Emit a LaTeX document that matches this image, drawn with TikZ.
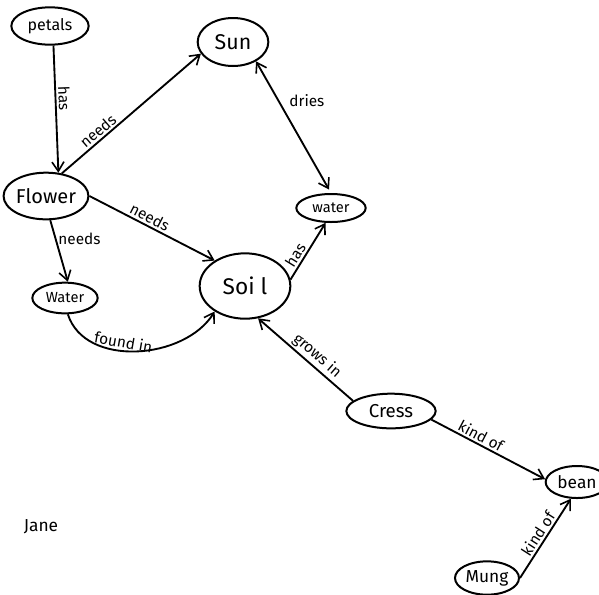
\documentclass[tikz,border=0pt]{standalone}
\usepackage{fontspec}
\setmainfont{Fira Sans}
\usetikzlibrary{arrows.meta,shapes.geometric}
\begin{document}
\begin{tikzpicture}[x=0.75pt,y=-0.75pt,
  blob/.style={draw,ellipse,line width=1.5pt,inner sep=0pt,font=\fontsize{13}{15}\selectfont},
  link/.style={line width=1.4pt,-{Straight Barb[length=7pt,width=9pt,line width=1.2pt]}},
  twolink/.style={line width=1.4pt,{Straight Barb[length=7pt,width=9pt,line width=1.2pt]}-{Straight Barb[length=7pt,width=9pt,line width=1.2pt]}},
  lbl/.style={font=\fontsize{11.5}{13}\selectfont,inner sep=1.5pt}]
\useasboundingbox (0,0) rectangle (599,594);

% concepts
\node[blob,minimum width=58pt,minimum height=28pt,font=\fontsize{12}{14}\selectfont] (petals) at (50,26) {petals};
\node[blob,minimum width=53pt,minimum height=36pt,font=\fontsize{16}{18}\selectfont] (sun) at (233,42) {Sun};
\node[blob,minimum width=62pt,minimum height=35pt,font=\fontsize{15}{17}\selectfont] (flower) at (46,196) {Flower};
\node[blob,minimum width=52pt,minimum height=21pt,font=\fontsize{11}{13}\selectfont] (wr) at (331,208) {water};
\node[blob,minimum width=49pt,minimum height=23pt,font=\fontsize{11}{13}\selectfont] (wl) at (65,298) {Water};
\node[blob,minimum width=68pt,minimum height=49pt,font=\fontsize{17}{19}\selectfont] (soil) at (245,286) {Soi l};
\node[blob,minimum width=67pt,minimum height=26pt,font=\fontsize{14}{16}\selectfont] (cress) at (391,411) {Cress};
\node[blob,minimum width=47pt,minimum height=24pt] (bean) at (577,482) {bean};
\node[blob,minimum width=48pt,minimum height=25pt] (mung) at (487,578) {Mung};
\node[font=\fontsize{13}{15}\selectfont] (jane) at (41,527) {Jane};

% links
\draw[link] (petals.-80) -- node[lbl,sloped,above,pos=0.42] {has} (flower.62);
\draw[link] (flower.55) -- node[lbl,sloped,above,pos=0.3] {needs} (sun.200);
\draw[link] (flower.east) -- node[lbl,sloped,above,pos=0.45] {needs} (soil.140);
\draw[link] (flower.-80) -- node[lbl,right,pos=0.3] {needs} (wl.80);
\draw[link] (wl.-80) .. controls (85,368) and (185,360) .. node[lbl,above,pos=0.42,rotate=-10] {found in} (soil.-140);
\draw[twolink,shorten >=3pt] (sun.-40) -- node[lbl,right,pos=0.3,xshift=6pt] {dries} (wr.north);
\draw[link] (soil.8) -- node[lbl,sloped,above,pos=0.35] {has} (wr.-110);
\draw[link] (cress.165) -- node[lbl,sloped,above,pos=0.45] {grows in} (soil.-68);
\draw[link] (cress.-12) -- node[lbl,sloped,above,pos=0.4] {kind of} (bean.175);
\draw[link] (mung.east) -- node[lbl,sloped,above,pos=0.5] {kind of} (bean.-110);
\end{tikzpicture}
\end{document}
